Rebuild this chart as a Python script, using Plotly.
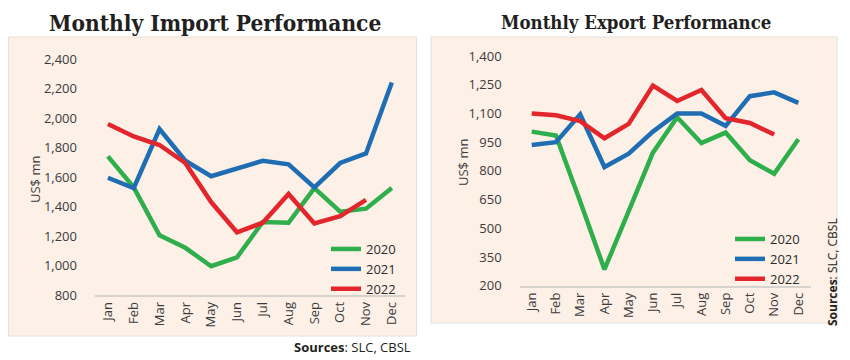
import plotly.graph_objects as go

months = ["Jan", "Feb", "Mar", "Apr", "May", "Jun", "Jul", "Aug", "Sep", "Oct", "Nov", "Dec"]
years = ["2020", "2021", "2022"]

import_2020 = [1740, 1530, 1205, 1120, 995, 1055, 1295, 1290, 1525, 1365, 1385, 1525]
import_2021 = [1595, 1525, 1925, 1710, 1605, 1655, 1710, 1686, 1530, 1695, 1760, 2240]
import_2022 = [1960, 1875, 1817, 1695, 1430, 1225, 1290, 1485, 1285, 1335, 1445]

export_2020 = [1005, 985, 640, 285, 590, 895, 1080, 945, 1000, 855, 785, 965]
export_2021 = [935, 950, 1095, 820, 890, 1005, 1100, 1100, 1035, 1190, 1210, 1155]
export_2022 = [1100, 1090, 1060, 970, 1045, 1245, 1165, 1222, 1075, 1050, 990]

colors = {"2020": "#2fae4c", "2021": "#1f6eb4", "2022": "#e3262b"}

# the page body has an 8px margin, so the figure is drawn 8px smaller
OFF = 8
W, H = 850 - OFF, 360 - OFF
def px(x):
    return (x - OFF) / W
def py(y):
    return 1 - (y - OFF) / H

fig = go.Figure()

imp = {"2020": import_2020, "2021": import_2021, "2022": import_2022}
exp = {"2020": export_2020, "2021": export_2021, "2022": export_2022}

for yr in years:
    fig.add_trace(go.Scatter(x=months[:len(imp[yr])], y=imp[yr], mode="lines", name=yr,
                             line=dict(color=colors[yr], width=4.5), xaxis="x", yaxis="y",
                             legend="legend"))
for yr in years:
    fig.add_trace(go.Scatter(x=months[:len(exp[yr])], y=exp[yr], mode="lines", name=yr,
                             line=dict(color=colors[yr], width=4.5), xaxis="x2", yaxis="y2",
                             legend="legend2"))

tickfont = dict(family="Open Sans, Noto Sans, sans-serif", size=13, color="#3b3b3b")
legfont = dict(family="Open Sans, Noto Sans, sans-serif", size=13, color="#2b2b2b")

xcommon = dict(type="category", categoryorder="array", categoryarray=months,
               range=[-0.5, 11.5], showline=True, linecolor="#d6d2ce", linewidth=1.5,
               showgrid=False, zeroline=False, ticks="", tickangle=-90, tickfont=tickfont,
               fixedrange=True, automargin=False)
ycommon = dict(showgrid=False, zeroline=False, showline=False, ticks="",
               tickformat=",", tickfont=tickfont, ticklabelstandoff=17, fixedrange=True,
               automargin=False)

fig.update_layout(
    template="none",
    width=W, height=H, autosize=False,
    margin=dict(l=0, r=0, t=0, b=0, pad=0, autoexpand=False),
    paper_bgcolor="white",
    plot_bgcolor="rgba(0,0,0,0)",
    xaxis=dict(domain=[px(95), px(404.7)], anchor="y", **xcommon),
    yaxis=dict(domain=[py(295), py(59)], anchor="x", range=[800, 2400],
               tickvals=[800, 1000, 1200, 1400, 1600, 1800, 2000, 2200, 2400], **ycommon),
    xaxis2=dict(domain=[px(519.6), px(810.5)], anchor="y2", **xcommon),
    yaxis2=dict(domain=[py(285.7), py(56)], anchor="x2", range=[200, 1400],
                tickvals=[200, 350, 500, 650, 800, 950, 1100, 1250, 1400], **ycommon),
    legend=dict(x=px(326), y=py(234), xanchor="left", yanchor="top",
                bgcolor="rgba(0,0,0,0)", font=legfont, itemwidth=30,
                tracegroupgap=0, borderwidth=0),
    legend2=dict(x=px(730), y=py(224), xanchor="left", yanchor="top",
                 bgcolor="rgba(0,0,0,0)", font=legfont, itemwidth=30,
                 tracegroupgap=0, borderwidth=0),
    showlegend=True,
)

# panel backgrounds
fig.add_shape(type="rect", xref="paper", yref="paper", x0=px(8.5), x1=px(416.5), y0=py(336), y1=py(37),
              fillcolor="#fcf0e7", line=dict(color="#e4e0dc", width=1), layer="below")
fig.add_shape(type="rect", xref="paper", yref="paper", x0=px(431), x1=px(837), y0=py(323), y1=py(37),
              fillcolor="#fcf0e7", line=dict(color="#e4e0dc", width=1), layer="below")

titlefont = dict(family="DejaVu Serif Condensed, DejaVu Serif, serif", color="#231f20")
fig.add_annotation(text="<b>Monthly Import Performance</b>", xref="paper", yref="paper",
                   x=px(215), y=py(23), xanchor="center", yanchor="middle", showarrow=False,
                   font=dict(size=22.5, **titlefont))
fig.add_annotation(text="<b>Monthly Export Performance</b>", xref="paper", yref="paper",
                   x=px(636), y=py(22), xanchor="center", yanchor="middle", showarrow=False,
                   font=dict(size=18.5, **titlefont))

axfont = dict(family="Open Sans, Noto Sans, sans-serif", size=13, color="#3b3b3b")
fig.add_annotation(text="US$ mn", xref="paper", yref="paper", x=px(35), y=py(180),
                   xanchor="center", yanchor="middle", textangle=-90, showarrow=False, font=axfont)
fig.add_annotation(text="US$ mn", xref="paper", yref="paper", x=px(463), y=py(163),
                   xanchor="center", yanchor="middle", textangle=-90, showarrow=False, font=axfont)

srcfont = dict(family="Open Sans, Noto Sans, sans-serif", size=13, color="#231f20")
fig.add_annotation(text="<b>Sources</b>: SLC, CBSL", xref="paper", yref="paper", x=px(413), y=py(347),
                   xanchor="right", yanchor="middle", showarrow=False, font=srcfont)
fig.add_annotation(text="<b>Sources</b>: SLC, CBSL", xref="paper", yref="paper", x=px(832), y=py(272),
                   xanchor="center", yanchor="middle", textangle=-90, showarrow=False,
                   font=dict(family="Open Sans, Noto Sans, sans-serif", size=12, color="#231f20"))

fig.write_html("out.html")
